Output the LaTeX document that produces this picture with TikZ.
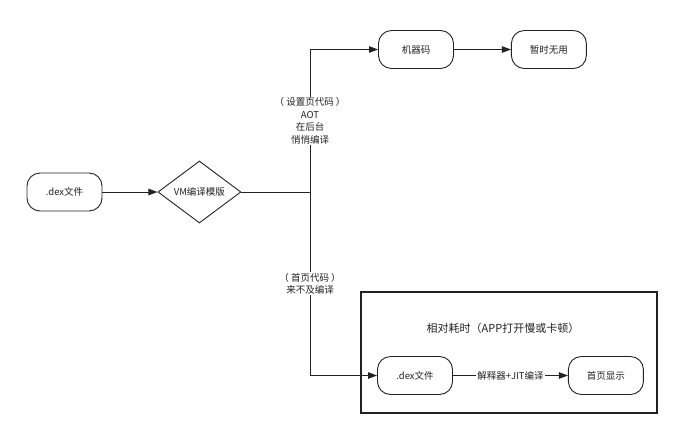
\documentclass[tikz,border=0pt]{standalone}
\usepackage{fontspec}
\setmainfont{Noto Sans CJK SC}
\usepackage{tikz}
\usetikzlibrary{positioning,shapes.geometric,arrows.meta,calc}
\definecolor{inkdark}{HTML}{222222}
\tikzset{
  >={Triangle[length=9pt,width=6.5pt]},
  every node/.style={font=\fontsize{9.5}{12}\selectfont, text=inkdark},
  term/.style={draw=inkdark, line width=0.9pt, rounded corners=13pt, align=center, minimum height=38pt, minimum width=75pt, inner sep=2pt},
  decide/.style={draw=inkdark, line width=0.9pt, diamond, aspect=1.34, inner sep=0pt, minimum width=83pt, minimum height=62pt},
  frame/.style={draw=inkdark, line width=1.2pt, minimum width=296pt, minimum height=121pt, inner sep=0pt},
  flow/.style={->, line width=0.9pt, draw=inkdark},
  lbl/.style={font=\fontsize{9.5}{12.5}\selectfont, fill=white, align=center, inner sep=1pt},
  head/.style={font=\fontsize{11}{13}\selectfont},
}
\begin{document}
\begin{tikzpicture}[x=1pt, y=-1pt]
  \useasboundingbox (0,0) rectangle (678,432);
  \node[term] (dex) at (64.5,192) {.dex文件};
  \node[decide, right=55pt of dex] (vm) {VM编译模版};
  \coordinate (fork) at (310,192);
  \node[term] (mc) at (416,49.5) {机器码};
  \node[term, right=57pt of mc] (idle) {暂时无用};

  % 下方框
  \node[frame] (box) at (509,352.5) {};
  \node[head] (title) at (503,328) {相对耗时（APP打开慢或卡顿）};
  \node[term] (dex2) at (415,375.5) {.dex文件};
  \node[term, right=115pt of dex2] (home) {首页显示};

  \draw[flow] (dex) -- (vm);
  \draw[flow, -] (vm) -- (fork);
  \draw[flow] (fork) |- node[pos=0.25, lbl]{（ 设置页代码 ）\\AOT\\在后台\\悄悄编译} (mc);
  \draw[flow] (fork) |- node[pos=0.25, lbl]{（ 首页代码 ）\\来不及编译} (dex2);
  \draw[flow] (mc) -- (idle);
  \draw[flow] (dex2) -- node[lbl]{解释器+JIT编译} (home);
\end{tikzpicture}
\end{document}
